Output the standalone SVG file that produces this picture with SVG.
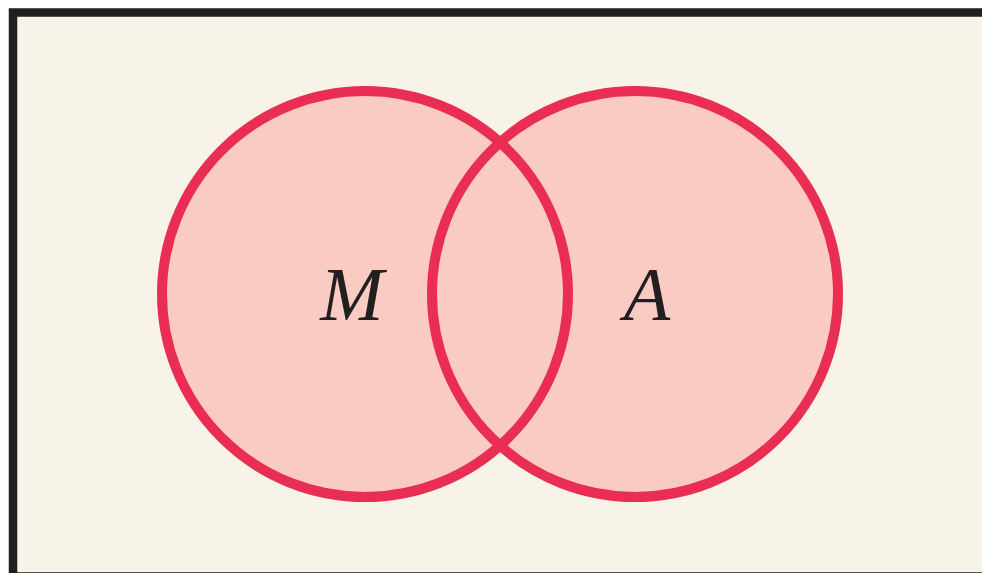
<svg xmlns="http://www.w3.org/2000/svg" width="982" height="573" viewBox="0 0 982 573">
<style>
.set{fill:#f9cbc3;fill-opacity:1;stroke:none}
.ring{fill:none;stroke:#ea2d52;stroke-width:10}
.lbl{font-family:"Liberation Serif","Times New Roman",serif;font-style:italic;font-size:76px;fill:#231f20;text-anchor:middle}
</style>
<rect x="13" y="12.5" width="980" height="564" fill="#f7f3e8" stroke="#231f20" stroke-width="8.5"/>
<g id="fills">
<circle class="set" cx="365" cy="294" r="203"/>
<circle class="set" cx="635" cy="294" r="203"/>
</g>
<g id="M">
<circle class="ring" cx="365" cy="294" r="203"/>
<text class="lbl" x="352" y="320">M</text>
</g>
<g id="A">
<circle class="ring" cx="635" cy="294" r="203"/>
<text class="lbl" x="647" y="320">A</text>
</g>
<g id="connectors"/>
</svg>
